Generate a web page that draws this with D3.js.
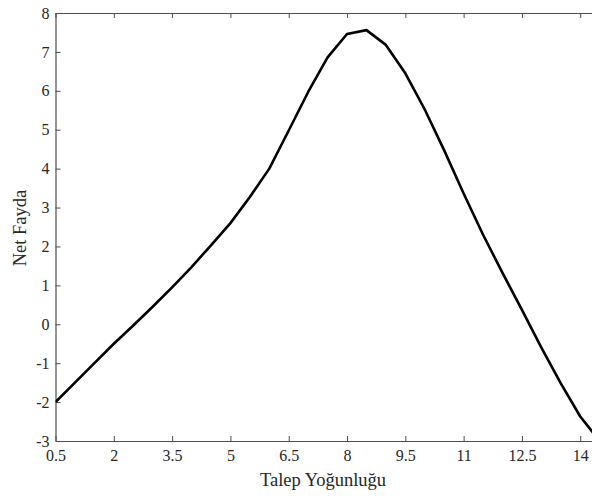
<!DOCTYPE html>
<html>
<head>
<meta charset="utf-8">
<script src="https://cdn.jsdelivr.net/npm/d3@7"></script>
<style>
  body { margin: 0; background: #fff; }
  svg { display: block; }
  .tick text { font-family: "Liberation Serif", "DejaVu Serif", serif; font-size: 16px; fill: #262626; }
  .lbl { font-family: "Liberation Serif", "DejaVu Serif", serif; font-size: 18.5px; fill: #262626; }
</style>
</head>
<body>
<div id="chart"></div>
<script>
// talep yogunlugu (x) and net fayda (y)
var talep = [0.5, 1, 1.5, 2, 2.5, 3, 3.5, 4, 4.5, 5, 5.5, 6, 6.5, 7, 7.5, 8, 8.5, 9, 9.5, 10,
             10.5, 11, 11.5, 12, 12.5, 13, 13.5, 14, 14.5];
var netFayda = [-2.0, -1.5, -1.0, -0.5, -0.03, 0.45, 0.95, 1.47, 2.03, 2.6, 3.27, 4.0, 4.98, 5.97, 6.86, 7.46, 7.56, 7.18, 6.45, 5.52,
                4.47, 3.36, 2.3, 1.32, 0.37, -0.6, -1.52, -2.37, -3.0];
var xTicks = [0.5, 2, 3.5, 5, 6.5, 8, 9.5, 11, 12.5, 14];
var yTicks = [-3, -2, -1, 0, 1, 2, 3, 4, 5, 6, 7, 8];

var W = 592, H = 497;
var margin = { top: 13, left: 55.5, bottom: 56 };
var plotH = H - margin.top - margin.bottom;

var svg = d3.select("#chart").append("svg").attr("width", W).attr("height", H);

var x = d3.scaleLinear().domain([0.5, 15]).range([margin.left, margin.left + 14.5 * 38.87]);
var y = d3.scaleLinear().domain([-3, 8]).range([H - margin.bottom, margin.top]);

var axisColor = "#4d4d4d";

// bottom axis
var gx = svg.append("g")
    .attr("transform", "translate(0," + y(-3) + ")")
    .call(d3.axisBottom(x).tickValues(xTicks).tickSizeInner(-5).tickSizeOuter(0).tickPadding(9)
        .tickFormat(function (d) { return d; }));
// top axis
var gt = svg.append("g")
    .attr("transform", "translate(0," + y(8) + ")")
    .call(d3.axisTop(x).tickValues(xTicks).tickSizeInner(-5).tickSizeOuter(0).tickFormat(""));
// left axis
var gy = svg.append("g")
    .attr("transform", "translate(" + x(0.5) + ",0)")
    .call(d3.axisLeft(y).tickValues(yTicks).tickSizeInner(-5).tickSizeOuter(0).tickPadding(6)
        .tickFormat(function (d) { return d; }));

[gx, gt, gy].forEach(function (g) {
    g.select(".domain").attr("stroke", axisColor).attr("stroke-width", 1.2);
    g.selectAll(".tick line").attr("stroke", axisColor);
});

svg.append("defs").append("clipPath").attr("id", "clip")
    .append("rect").attr("x", x(0.5)).attr("y", y(8)).attr("width", W).attr("height", plotH);

var line = d3.line()
    .x(function (d, i) { return x(talep[i]); })
    .y(function (d) { return y(d); });

svg.append("path")
    .datum(netFayda)
    .attr("clip-path", "url(#clip)")
    .attr("fill", "none")
    .attr("stroke", "#000")
    .attr("stroke-width", 2.6)
    .attr("stroke-linejoin", "round")
    .attr("d", line);

svg.append("text").attr("class", "lbl")
    .attr("x", 323).attr("y", 486)
    .attr("text-anchor", "middle")
    .text("Talep Yoğunluğu");

svg.append("text").attr("class", "lbl")
    .attr("transform", "translate(26,228) rotate(-90)")
    .attr("text-anchor", "middle")
    .text("Net Fayda");
</script>
</body>
</html>
